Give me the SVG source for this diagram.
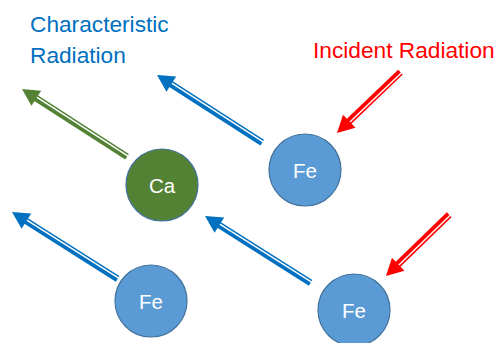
<svg xmlns="http://www.w3.org/2000/svg" xmlns:xlink="http://www.w3.org/1999/xlink" width="503" height="343" viewBox="0 0 503 343">
  <style>
    .lbl { font-family: "Liberation Sans", Arial, sans-serif; font-size: 22.7px; }
    .blue-t { fill: #0070C0; }
    .red-t { fill: #FF0000; }
    .node circle { stroke: #41719C; stroke-width: 1.2; }
    .fe circle { fill: #5B9BD5; }
    .ca circle { fill: #548235; }
    .node text { font-family: "Liberation Sans", Arial, sans-serif; font-size: 20.5px; fill: #FFFFFF; text-anchor: middle; }
  </style>
  <defs>
    <g id="arrowLong">
      <polygon points="0,0 17,-9 17,9" fill="currentColor"/>
      <rect x="14" y="-3.3" width="111" height="1.5" fill="currentColor"/>
      <rect x="14" y="-0.4" width="111" height="3.8" fill="currentColor"/>
    </g>
    <g id="arrowShort">
      <polygon points="0,0 17,-9 17,9" fill="currentColor"/>
      <rect x="14" y="-3.3" width="74" height="1.5" fill="currentColor"/>
      <rect x="14" y="-0.4" width="74" height="3.8" fill="currentColor"/>
    </g>
  </defs>

  <g id="labels">
    <text class="lbl blue-t" x="30" y="32">Characteristic</text>
    <text class="lbl blue-t" x="30" y="63">Radiation</text>
    <text class="lbl red-t" x="313" y="58">Incident Radiation</text>
  </g>

  <g id="connectors">
    <use xlink:href="#arrowLong" href="#arrowLong" style="color:#548235" transform="translate(22,89) rotate(32.8)"/>
    <use xlink:href="#arrowLong" href="#arrowLong" style="color:#0070C0" transform="translate(157,75) rotate(32.7)"/>
    <use xlink:href="#arrowLong" href="#arrowLong" style="color:#0070C0" transform="translate(12,212) rotate(32.3)"/>
    <use xlink:href="#arrowLong" href="#arrowLong" style="color:#0070C0" transform="translate(205,216) rotate(32.3)"/>
    <use xlink:href="#arrowShort" href="#arrowShort" style="color:#FF0000" transform="translate(337,133) rotate(-43.8) scale(1,-1)"/>
    <use xlink:href="#arrowShort" href="#arrowShort" style="color:#FF0000" transform="translate(386,276) rotate(-44.1) scale(1,-1)"/>
  </g>

  <g id="fe1" class="node fe">
    <circle cx="305" cy="170" r="36"/>
    <text x="305" y="178">Fe</text>
  </g>
  <g id="ca" class="node ca">
    <circle cx="162" cy="185" r="36"/>
    <text x="162" y="193">Ca</text>
  </g>
  <g id="fe2" class="node fe">
    <circle cx="151" cy="301" r="36"/>
    <text x="151" y="309">Fe</text>
  </g>
  <g id="fe3" class="node fe">
    <circle cx="354" cy="310" r="36"/>
    <text x="354" y="318">Fe</text>
  </g>
</svg>
